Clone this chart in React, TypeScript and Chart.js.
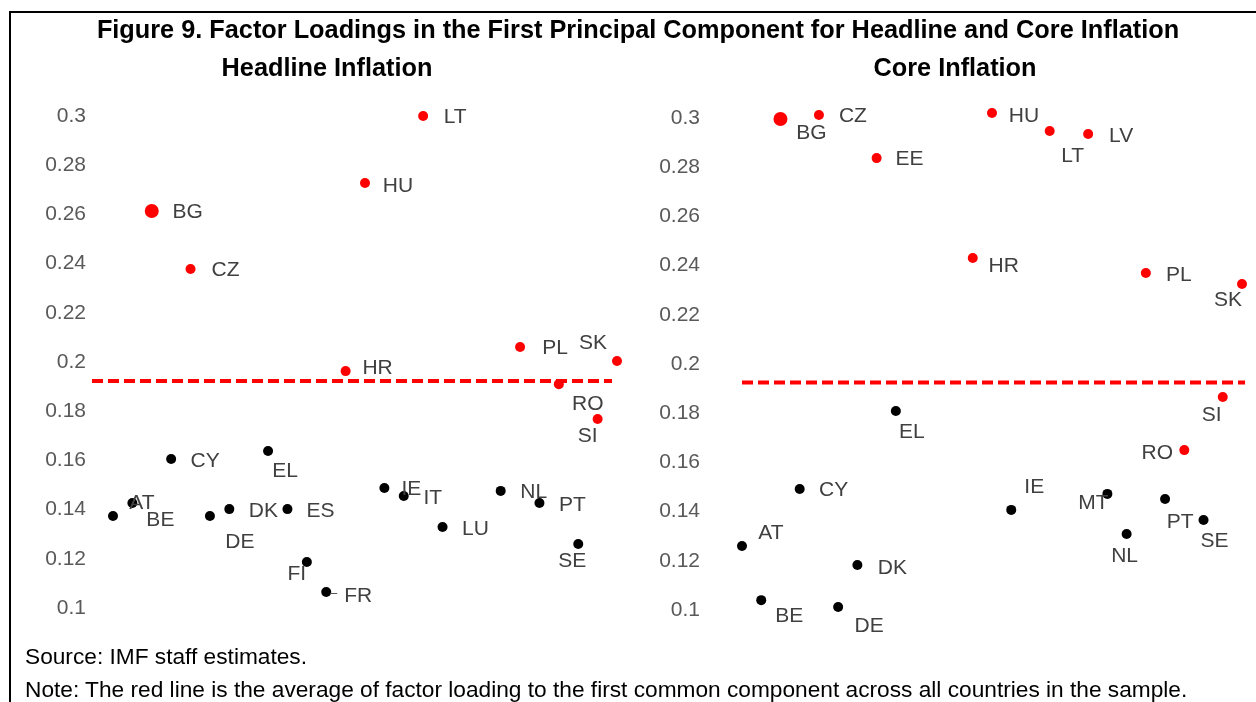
import React, { useEffect, useRef } from "react";
import { Chart, registerables } from "chart.js";

Chart.register(...registerables);

// All countries in alphabetical order define the x positions (index)
const COUNTRIES = ["AT","BE","BG","CY","CZ","DE","DK","EE","EL","ES","FI","FR","HR","HU","IE","IT","LT","LU","LV","MT","NL","PL","PT","RO","SE","SI","SK"];

// Countries drawn in red
const RED_GROUP = ["BG","CZ","EE","HR","HU","LT","LV","PL","RO","SI","SK"];

// Headline inflation
const headlineCountries = ["AT","BE","BG","CY","CZ","DE","DK","EL","ES","FI","FR","HR","HU","IE","IT","LT","LU","NL","PL","PT","RO","SE","SI","SK"];
const headlineValues = [0.1374,0.1427,0.2614,0.1606,0.2378,0.1374,0.1402,0.1638,0.1402,0.1187,0.1065,0.1963,0.2728,0.1488,0.1455,0.300,0.1329,0.1476,0.2061,0.1427,0.191,0.126,0.1768,0.2004];
const headlineAverage = 0.1923;

// Core inflation
const coreCountries = ["AT","BE","BG","CY","CZ","DE","DK","EE","EL","HR","HU","IE","LT","LV","MT","NL","PL","PT","RO","SE","SI","SK"];
const coreValues = [0.126,0.104,0.2996,0.1492,0.3012,0.1012,0.1183,0.2837,0.1809,0.2431,0.302,0.1407,0.2947,0.2935,0.1472,0.1309,0.237,0.1451,0.165,0.1366,0.1866,0.2325];
const coreAverage = 0.1925;

// Y axis ticks
const yTickValues = [0.1,0.12,0.14,0.16,0.18,0.2,0.22,0.24,0.26,0.28,0.3];
const yTickLabels = ["0.1","0.12","0.14","0.16","0.18","0.2","0.22","0.24","0.26","0.28","0.3"];

// Label placement (pixel offsets of label centre from point) – layout only
const headlineLabelOffsets: Record<string, [number, number]> = {
  AT: [29,-13], BE: [28,17], BG: [36,1], CY: [34,2], CZ: [35,1], DE: [30,26], DK: [34,2],
  EL: [17,20], ES: [33,2], FI: [-10,12], FR: [32,4], HR: [32,-3], HU: [33,3], IE: [27,1],
  IT: [29,2], LT: [32,1], LU: [33,2], NL: [33,1], PL: [35,1], PT: [33,2], RO: [29,20],
  SE: [-6,17], SI: [-10,17], SK: [-24,-18],
};
const coreLabelOffsets: Record<string, [number, number]> = {
  AT: [29,-13], BE: [28,16], BG: [31,14], CY: [34,1], CZ: [34,1], DE: [31,19], DK: [35,3],
  EE: [33,1], EL: [16,21], HR: [31,8], HU: [32,3], IE: [23,-23], LT: [23,25], LV: [33,2],
  MT: [-14,9], NL: [-2,22], PL: [33,2], PT: [15,23], RO: [-27,3], SE: [11,21], SI: [-11,18], SK: [-14,16],
};
// Labels with a short leader line
const headlineLeaders = ["FR"];
const coreLeaders: string[] = [];

const FONT = "'Liberation Sans', Arial, sans-serif";

type PanelProps = {
  countries: string[];
  values: number[];
  average: number;
  offsets: Record<string, [number, number]>;
  leaders: string[];
  xMin: number;
  xMax: number;
  lineFrom: number;
  lineTo: number;
  yAxisWidth: number;
  tickPadding: number;
  padding: { top: number; bottom: number; left: number; right: number };
  left: number;
};

function Panel(props: PanelProps) {
  const ref = useRef<HTMLCanvasElement | null>(null);
  useEffect(() => {
    if (!ref.current) return;
    const { countries, values, average, offsets, leaders } = props;
    const points = countries.map((c, i) => ({ x: COUNTRIES.indexOf(c), y: values[i] }));
    const colors = countries.map((c) => (RED_GROUP.includes(c) ? "#FF0000" : "#000000"));
    const radii = countries.map((c) => (c === "BG" ? 7 : 5));

    const labelPlugin = {
      id: "pointLabels",
      afterDatasetsDraw(chart: any) {
        const ctx = chart.ctx;
        const meta = chart.getDatasetMeta(0);
        ctx.save();
        ctx.font = `21px ${FONT}`;
        ctx.fillStyle = "#404040";
        ctx.textAlign = "center";
        ctx.textBaseline = "middle";
        meta.data.forEach((el: any, i: number) => {
          const c = countries[i];
          const off = offsets[c] || [30, 0];
          ctx.fillText(c, el.x + off[0], el.y + off[1]);
          if (leaders.includes(c)) {
            ctx.strokeStyle = "#595959";
            ctx.lineWidth = 1;
            ctx.beginPath();
            ctx.moveTo(el.x + 4, el.y + 1.5);
            ctx.lineTo(el.x + 11, el.y + 1.5);
            ctx.stroke();
          }
        });
        ctx.restore();
      },
    };

    const chart = new Chart(ref.current, {
      type: "scatter",
      data: {
        datasets: [
          {
            data: points,
            pointBackgroundColor: colors,
            pointBorderColor: colors,
            pointBorderWidth: 0,
            pointRadius: radii,
            clip: false,
          } as any,
          {
            type: "line",
            data: [
              { x: props.lineFrom, y: average },
              { x: props.lineTo, y: average },
            ],
            borderColor: "#FF0000",
            borderWidth: 4,
            borderDash: [11, 5],
            pointRadius: 0,
            clip: false,
          } as any,
        ],
      },
      options: {
        animation: false,
        responsive: false,
        maintainAspectRatio: false,
        layout: { padding: props.padding },
        plugins: { legend: { display: false }, tooltip: { enabled: false }, title: { display: false } },
        scales: {
          x: { type: "linear", min: props.xMin, max: props.xMax, display: false },
          y: {
            type: "linear",
            min: 0.1,
            max: 0.3,
            grid: { display: false, drawTicks: false },
            border: { display: false },
            ticks: {
              color: "#595959",
              font: { family: FONT, size: 21 },
              padding: props.tickPadding,
              callback: (v: any) => {
                const idx = yTickValues.findIndex((t) => Math.abs(t - v) < 1e-9);
                return idx >= 0 ? yTickLabels[idx] : "";
              },
            },
            afterBuildTicks: (axis: any) => {
              axis.ticks = yTickValues.map((v) => ({ value: v }));
            },
            afterFit: (axis: any) => {
              axis.width = props.yAxisWidth;
            },
          },
        },
      },
      plugins: [labelPlugin],
    });
    return () => chart.destroy();
  }, []);
  return (
    <canvas
      ref={ref}
      width={628}
      height={702}
      style={{ position: "absolute", left: props.left, top: 0, width: 628, height: 702 }}
    />
  );
}

const titleStyle: React.CSSProperties = {
  position: "absolute",
  textAlign: "center",
  fontFamily: FONT,
  fontWeight: "bold",
  fontSize: 25.3,
  color: "#000",
  lineHeight: "30px",
  whiteSpace: "nowrap",
};

const noteStyle: React.CSSProperties = {
  position: "absolute",
  left: 25,
  fontFamily: FONT,
  fontSize: 22.7,
  color: "#000",
  lineHeight: "28px",
  whiteSpace: "nowrap",
};

export default function App() {
  return (
    <div style={{ position: "absolute", left: 0, top: 0, width: 1256, height: 702, background: "#fff", overflow: "hidden" }}>
      <Panel
        countries={headlineCountries}
        values={headlineValues}
        average={headlineAverage}
        offsets={headlineLabelOffsets}
        leaders={headlineLeaders}
        xMin={-1.083}
        xMax={26.206}
        lineFrom={-1.083}
        lineTo={25.74}
        yAxisWidth={92}
        tickPadding={6}
        padding={{ top: 116, bottom: 94, left: 0, right: 3 }}
        left={0}
      />
      <Panel
        countries={coreCountries}
        values={coreValues}
        average={coreAverage}
        offsets={coreLabelOffsets}
        leaders={coreLeaders}
        xMin={-1.768}
        xMax={26.364}
        lineFrom={0}
        lineTo={26.16}
        yAxisWidth={80}
        tickPadding={8}
        padding={{ top: 118, bottom: 92, left: 0, right: 6 }}
        left={628}
      />
      <div style={{ position: "absolute", left: 9, top: 11, width: 1247, height: 2, background: "#000" }} />
      <div style={{ position: "absolute", left: 9, top: 11, width: 2, height: 691, background: "#000" }} />
      <div style={{ ...titleStyle, left: 10, width: 1256, top: 14 }}>
        Figure 9. Factor Loadings in the First Principal Component for Headline and Core Inflation
      </div>
      <div style={{ ...titleStyle, left: 127, width: 400, top: 52 }}>Headline Inflation</div>
      <div style={{ ...titleStyle, left: 755, width: 400, top: 52 }}>Core Inflation</div>
      <div style={{ ...noteStyle, top: 642 }}>Source: IMF staff estimates.</div>
      <div style={{ ...noteStyle, top: 675 }}>
        Note: The red line is the average of factor loading to the first common component across all countries in the sample.
      </div>
    </div>
  );
}
